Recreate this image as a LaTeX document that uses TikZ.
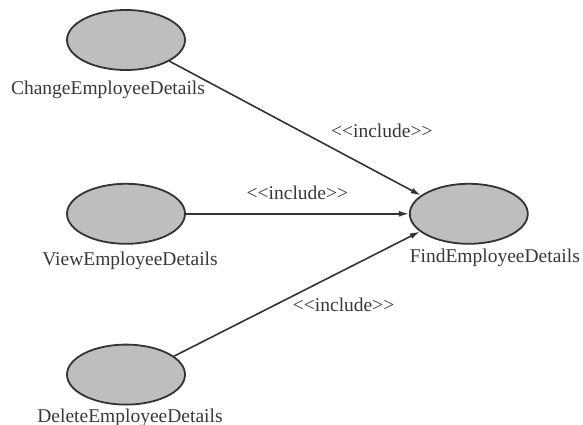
\documentclass[tikz,border=0pt]{standalone}
\usepackage{fontspec}
\setmainfont{Liberation Serif}
\usetikzlibrary{positioning, shapes.geometric, arrows.meta}
\definecolor{ucfill}{HTML}{BEBEBE}
\definecolor{ucline}{HTML}{333333}
\definecolor{uctext}{HTML}{383838}

\begin{document}
\begin{tikzpicture}[x=1pt, y=-1pt, usecase/.style={ellipse, draw=ucline, line width=1.8pt, fill=ucfill, minimum width=118pt, minimum height=60pt, inner sep=0pt}, caption/.style={inner sep=0pt, text=uctext, font=\fontsize{19.5}{22}\selectfont}, include/.style={draw=ucline, line width=1.6pt, -{Latex[length=10pt, width=6pt]}}]

        \useasboundingbox (0,0) rectangle (583,425);

        \node[usecase] (change) at (126,40) {};
        \node[usecase, below=112pt of change] (view) {};
        \node[usecase, below=99pt of view] (delete) {};
        \node[usecase, right=223pt of view] (find) {};

        \node[caption, below=10pt of change, xshift=-18pt] (changelbl) {ChangeEmployeeDetails};
        \node[caption, below=7pt of view, xshift=4pt] (viewlbl) {ViewEmployeeDetails};
        \node[caption, below=3pt of delete, xshift=4pt] (deletelbl) {DeleteEmployeeDetails};
        \node[caption, below=4pt of find, xshift=26pt] (findlbl) {FindEmployeeDetails};

        \path[include] (change.334) -- node[caption, pos=0.845, yshift=44pt] {{<}{<}include{>}{>}} (find.159);
        \path[include] (view.east) -- node[caption, pos=0.5, yshift=21pt] {{<}{<}include{>}{>}} (find.west);
        \path[include] (delete.21) -- node[caption, pos=0.69, yshift=-35pt] {{<}{<}include{>}{>}} (find.200);
\end{tikzpicture}
\end{document}
